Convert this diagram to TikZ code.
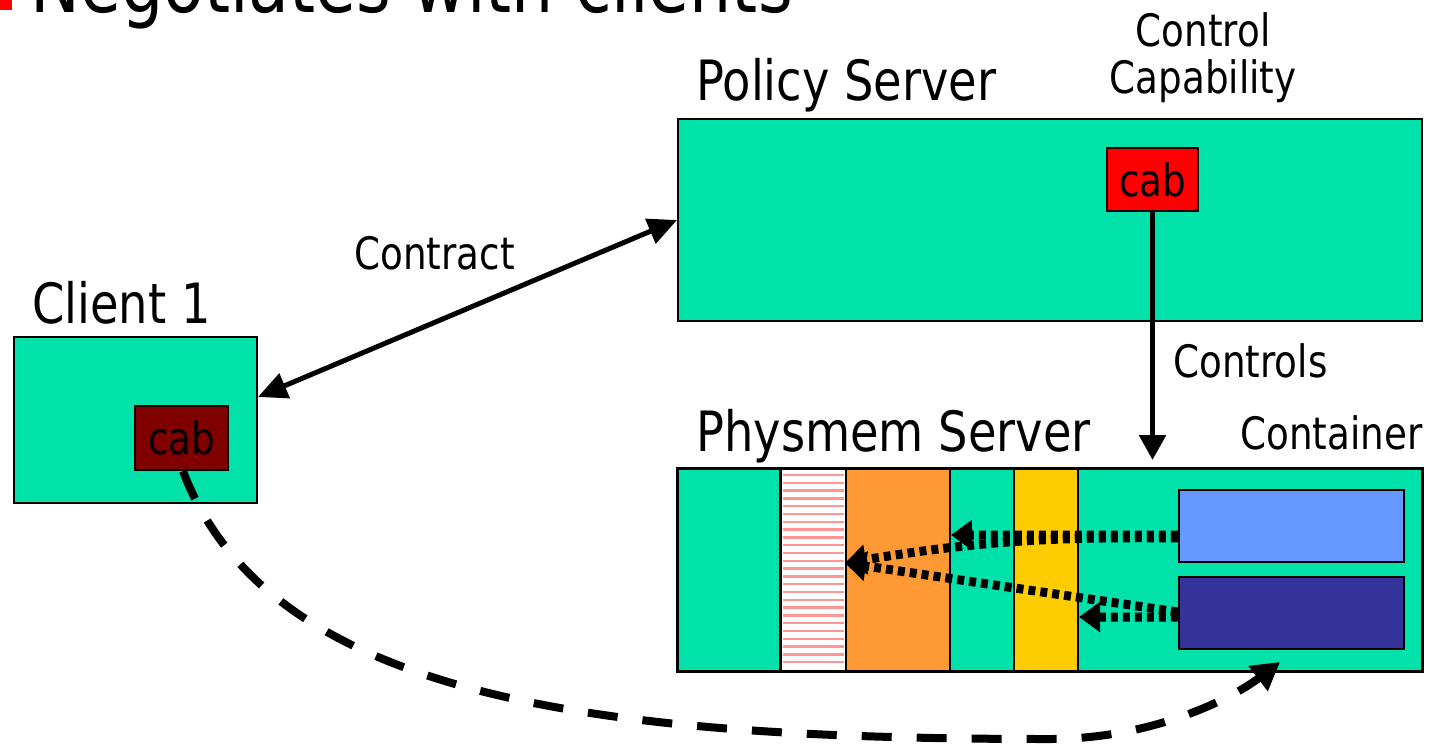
\documentclass[tikz,border=0pt]{standalone}
\usepackage{fontspec}
\setmainfont[FakeStretch=0.835]{DejaVu Sans}
\usetikzlibrary{arrows.meta}
\definecolor{boxgreen}{RGB}{0,226,170}
\definecolor{capred}{RGB}{255,0,0}
\definecolor{capdark}{RGB}{128,0,0}
\definecolor{memorange}{RGB}{255,153,51}
\definecolor{memyellow}{RGB}{255,204,0}
\definecolor{memlight}{RGB}{102,153,255}
\definecolor{memdark}{RGB}{51,51,153}
\definecolor{hatchpink}{RGB}{255,150,150}
\tikzset{
  titletxt/.style={inner sep=0pt, font=\fontsize{45.4}{54}\selectfont},
  bigtxt/.style={inner sep=0pt, font=\fontsize{31.6}{38}\selectfont},
  midtxt/.style={inner sep=0pt, font=\fontsize{25.4}{30}\selectfont},
  server/.style={draw=black, line width=0.04cm, fill=boxgreen, inner sep=0pt,
    minimum width=14.88cm, minimum height=4.04cm},
  capbox/.style={draw=black, line width=0.05cm, inner sep=0pt, font=\fontsize{25.4}{30}\selectfont},
  band/.style={draw=black, line width=0.04cm, inner sep=0pt, minimum height=4.04cm},
  region/.style={draw=black, line width=0.05cm, inner sep=0pt, minimum width=4.5cm, minimum height=1.44cm},
  solidarrow/.style={line width=0.1cm, {Triangle[length=0.58cm,width=0.52cm]}-{Triangle[length=0.58cm,width=0.52cm]}},
  ctrlarrow/.style={line width=0.11cm, -{Triangle[length=0.5cm,width=0.52cm]}},
  dotarrow/.style={line width=0.18cm, dash pattern=on 0.14cm off 0.1cm,
    -{Triangle[length=0.42cm,width=0.58cm]}},
  dasharrow/.style={line width=0.16cm, dash pattern=on 0.6cm off 0.5cm,
    -{Triangle[length=0.55cm,width=0.6cm]}}
}
\begin{document}
\begin{tikzpicture}[x=0.02cm,y=-0.02cm]
\useasboundingbox (0,0) rectangle (1429,744);
\clip (0,0) rectangle (1429,744);

% heading bullet line
\fill[capred] (0,-6) rectangle (12,10);
\node[titletxt, anchor=base west] (heading) at (30,12) {Negotiates with clients};

% servers and client
\node[server] (policy) at (1050,220) {};
\node[server] (physmem) at (1050,570) {};
\node[draw=black, line width=0.04cm, fill=boxgreen, inner sep=0pt,
      minimum width=4.86cm, minimum height=3.32cm] (client) at (135.5,420) {};

% capabilities
\node[capbox, fill=capred, minimum width=1.82cm, minimum height=1.26cm] (pcab) at (1152.5,179.5) {cab};
\node[capbox, fill=capdark, minimum width=1.86cm, minimum height=1.28cm] (ccab) at (181.5,438) {cab};

% physical memory bands
\node[band, fill=white, minimum width=1.3cm] (hatch) at (813.5,570) {};
\foreach \yy in {475,482.8,...,668}
  \draw[hatchpink, line width=0.045cm] (783,\yy) -- (844,\yy);
\draw[black, line width=0.04cm] (hatch.north west) rectangle (hatch.south east);
\node[band, fill=memorange, minimum width=2.08cm] (orange) at (898,570) {};
\node[band, fill=memyellow, minimum width=1.28cm] (yellow) at (1046,570) {};
\draw[black, line width=0.04cm] (physmem.north west) rectangle (physmem.south east);

% containers
\node[region, fill=memlight] (lb) at (1291.5,526) {};
\node[region, fill=memdark] (db) at (1291.5,613) {};

% labels
\node[bigtxt, anchor=base west] (pslabel) at (696,100) {Policy Server};
\node[bigtxt, anchor=base west] (pmlabel) at (696,451) {Physmem Server};
\node[bigtxt, anchor=base west] (c1label) at (32,323) {Client 1};
\node[midtxt, anchor=base] (cclabel1) at (1203,46) {Control};
\node[midtxt, anchor=base] (cclabel2) at (1203,93) {Capability};
\node[midtxt, anchor=base west] (ctlabel) at (354,269) {Contract};
\node[midtxt, anchor=base west] (cslabel) at (1173,377) {Controls};
\node[midtxt, anchor=base west] (cnlabel) at (1240,449) {Container};

% connectors
\draw[solidarrow] ([yshift=0.46cm]client.east) -- (policy.west);
\draw[ctrlarrow, shorten >=0.16cm] (pcab.south) -- (pcab.south |- physmem.north);

\draw[dotarrow] ([yshift=-0.18cm]lb.west) -- ([yshift=0.7cm]orange.east);
\draw[dotarrow] ([yshift=-0.24cm]lb.west) to[bend right=5] ([yshift=0.14cm]orange.west);
\draw[dotarrow] ([yshift=-0.08cm]db.west) -- ([yshift=-0.94cm]yellow.east);
\draw[dotarrow] ([yshift=0.02cm]db.west) -- ([yshift=0.14cm]orange.west);

\coordinate (dashend) at (1280,662);
\draw[dasharrow] ([xshift=0.03cm]ccab.south)
  .. controls (270,700) and (600,739) .. (1050,739)
  .. controls (1150,739) and (1230,700) .. (dashend);
\end{tikzpicture}
\end{document}
